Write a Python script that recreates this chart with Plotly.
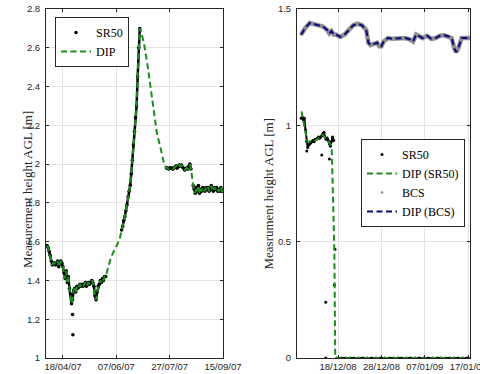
import pandas as pd
import plotly.graph_objects as go

# ---------------- Left panel data (2007) ----------------
sr50_a_start = "2007-04-03"
sr50_a = [1.58, 1.57, 1.55, 1.53, 1.50, 1.48, 1.49, 1.49, 1.48, 1.49,
          1.50, 1.47, 1.49, 1.50, 1.49, 1.47, 1.44, 1.41, 1.45, 1.39,
          1.42, 1.36, 1.33, 1.28, 1.30, 1.35, 1.36, 1.34, 1.37, 1.36,
          1.37, 1.38, 1.37, 1.38, 1.37, 1.38, 1.39, 1.37, 1.38, 1.39,
          1.38, 1.39, 1.40, 1.39, 1.37, 1.32, 1.30, 1.34, 1.37, 1.38,
          1.40, 1.39, 1.41, 1.40, 1.42, 1.42]
sr50_b_start = "2007-06-12"
sr50_b = [1.66, 1.68, 1.71, 1.73, 1.76, 1.79, 1.83, 1.86, 1.89, 1.95,
          2.02, 2.10, 2.17, 2.24, 2.30, 2.45, 2.60, 2.70]
sr50_c_start = "2007-07-24"
sr50_c = [1.98, 1.98, 1.975, 1.98, 1.98, 1.98, 1.975, 1.98, 1.985, 1.99,
          1.98, 1.985, 1.995, 1.99, 1.995, 1.985, 1.98, 1.97, 1.975, 1.98,
          1.975, 1.99, 2.00, 1.975]
sr50_d_start = "2007-08-18"
sr50_d = [1.89, 1.87, 1.85, 1.88, 1.86, 1.89, 1.85, 1.87, 1.86, 1.88,
          1.87, 1.86, 1.88, 1.87, 1.88, 1.86, 1.87, 1.89, 1.87, 1.86,
          1.88, 1.87, 1.88, 1.86, 1.87, 1.86, 1.88, 1.86, 1.865]
sr50_out_dates = ["2007-04-27", "2007-04-27 06:00"]
sr50_out_vals = [1.225, 1.12]

dip_gap1_dates = ["2007-05-30", "2007-06-02", "2007-06-06", "2007-06-10"]
dip_gap1_vals = [1.46, 1.52, 1.565, 1.61]
dip_gap2_dates = ["2007-06-30", "2007-07-03", "2007-07-06", "2007-07-09",
                  "2007-07-12", "2007-07-15", "2007-07-19", "2007-07-22"]
dip_gap2_vals = [2.69, 2.62, 2.52, 2.40, 2.28, 2.16, 2.07, 1.995]
dip_gap3_dates = ["2007-08-17"]
dip_gap3_vals = [1.92]

left_ticks = ["2007-04-18", "2007-06-07", "2007-07-27", "2007-09-15"]
left_ticktext = ["18/04/07", "07/06/07", "27/07/07", "15/09/07"]
left_yticks = [1, 1.2, 1.4, 1.6, 1.8, 2, 2.2, 2.4, 2.6, 2.8]

# ---------------- Right panel data (2008/09) ----------------
r_sr50_start = "2008-12-09 12:00"
r_sr50 = [1.03, 1.035, 1.025, 1.03, 0.98, 0.93, 0.905, 0.915, 0.92, 0.925,
          0.93, 0.935, 0.93, 0.94, 0.94, 0.945, 0.95, 0.945, 0.95, 0.955,
          0.965, 0.97, 0.95, 0.94, 0.945, 0.935, 0.92, 0.91, 0.93, 0.95,
          0.935]
r_zero_start = "2008-12-17 18:00"
r_zero = [0.0, 0.0, 0.0, 0.0, 0.0, 0.0, 0.0, 0.0, 0.0, 0.0,
          0.0, 0.0, 0.0, 0.0, 0.0, 0.0, 0.0, 0.0, 0.0, 0.0,
          0.0, 0.0, 0.0, 0.0, 0.0, 0.0, 0.0, 0.0, 0.0, 0.0, 0.0]
r_out_dates = ["2008-12-10 19:00", "2008-12-14 06:00", "2008-12-16 00:00",
               "2008-12-15 04:00", "2008-12-15 04:00", "2008-12-17 03:30",
               "2008-12-17 07:00"]
r_out_vals = [0.89, 0.873, 0.855, 0.24, 0.0, 0.314, 0.4675]

r_dip_dates = ["2008-12-09 14:00", "2008-12-10 22:00", "2008-12-12 12:00",
               "2008-12-14 12:00", "2008-12-16 13:00", "2008-12-17 03:36",
               "2008-12-17 08:30", "2009-01-17 12:00"]
r_dip_vals = [1.06, 0.93, 0.93, 0.96, 0.91, 0.46, 0.0, 0.0]

bcs_dates = ["2008-12-09 12:00", "2008-12-10 12:00", "2008-12-11 12:00",
             "2008-12-12 12:00", "2008-12-13 12:00", "2008-12-14 12:00",
             "2008-12-15 12:00", "2008-12-16 00:00", "2008-12-16 12:00",
             "2008-12-17 00:00", "2008-12-17 12:00", "2008-12-18 12:00",
             "2008-12-19 12:00", "2008-12-20 12:00", "2008-12-21 12:00",
             "2008-12-22 12:00", "2008-12-23 12:00", "2008-12-24 12:00",
             "2008-12-25 00:00", "2008-12-25 12:00", "2008-12-26 12:00",
             "2008-12-27 00:00", "2008-12-27 12:00", "2008-12-28 00:00",
             "2008-12-28 12:00", "2008-12-29 12:00", "2008-12-30 12:00",
             "2008-12-31 12:00", "2009-01-01 12:00", "2009-01-02 12:00",
             "2009-01-03 12:00", "2009-01-04 07:00", "2009-01-05 00:00",
             "2009-01-05 12:00", "2009-01-06 12:00", "2009-01-07 12:00",
             "2009-01-08 12:00", "2009-01-09 12:00", "2009-01-10 12:00",
             "2009-01-11 12:00", "2009-01-12 12:00", "2009-01-13 05:00",
             "2009-01-13 19:00", "2009-01-14 05:00", "2009-01-14 17:00",
             "2009-01-15 12:00", "2009-01-16 12:00", "2009-01-17 10:00"]
bcs_vals = [1.39, 1.42, 1.44, 1.435, 1.43, 1.425, 1.41, 1.395, 1.405,
            1.39, 1.39, 1.38, 1.39, 1.41, 1.43, 1.437, 1.43, 1.41,
            1.355, 1.345, 1.35, 1.355, 1.34, 1.34, 1.36, 1.375, 1.372,
            1.372, 1.372, 1.375, 1.37, 1.36, 1.39, 1.385, 1.375, 1.385,
            1.372, 1.375, 1.385, 1.387, 1.382, 1.375, 1.33, 1.315, 1.33,
            1.375, 1.375, 1.375]
# DIP (BCS) follows the BCS record closely
dip_bcs_dates = list(bcs_dates)
dip_bcs_vals = list(bcs_vals)

right_ticks = ["2008-12-18", "2008-12-28", "2009-01-07", "2009-01-17"]
right_ticktext = ["18/12/08", "28/12/08", "07/01/09", "17/01/09"]
right_yticks = [0, 0.5, 1, 1.5]


def seg_dates(start, vals, freq="D"):
    return list(pd.date_range(start, periods=len(vals), freq=freq))


a_d = seg_dates(sr50_a_start, sr50_a)
b_d = seg_dates(sr50_b_start, sr50_b)
c_d = seg_dates(sr50_c_start, sr50_c)
d_d = seg_dates(sr50_d_start, sr50_d)

sr50_x = a_d + b_d + c_d + d_d + [pd.Timestamp(t) for t in sr50_out_dates]
sr50_y = sr50_a + sr50_b + sr50_c + sr50_d + sr50_out_vals

line_x, line_y = [], []
for dd, vv in [(a_d, sr50_a), (b_d, sr50_b), (c_d, sr50_c), (d_d, sr50_d)]:
    line_x += dd + [None]
    line_y += vv + [None]

dip_x = (a_d + [pd.Timestamp(t) for t in dip_gap1_dates] + b_d
         + [pd.Timestamp(t) for t in dip_gap2_dates] + c_d
         + [pd.Timestamp(t) for t in dip_gap3_dates] + d_d)
dip_y = sr50_a + dip_gap1_vals + sr50_b + dip_gap2_vals + sr50_c + dip_gap3_vals + sr50_d

rs_d = seg_dates(r_sr50_start, r_sr50, "6h")
rz_d = seg_dates(r_zero_start, r_zero)

GREEN = "#1a8f1a"
NAVY = "#0a0a80"
GRAY = "#8e8e8e"
AX = "#262626"
SERIF = "Liberation Serif, Times New Roman, DejaVu Serif, serif"
SANS = "Liberation Sans, Arial, sans-serif"
DASH = "6px,3.5px"

fig = go.Figure()

# Left panel
fig.add_trace(go.Scatter(x=line_x, y=line_y, mode="lines", line=dict(color="black", width=2.5),
                         showlegend=False, hoverinfo="skip", xaxis="x", yaxis="y"))
fig.add_trace(go.Scatter(x=sr50_x, y=sr50_y, mode="markers", name="SR50",
                         marker=dict(color="black", size=3.5), xaxis="x", yaxis="y", legend="legend"))
fig.add_trace(go.Scatter(x=dip_x, y=dip_y, mode="lines", name="DIP",
                         line=dict(color=GREEN, width=2, dash=DASH), xaxis="x", yaxis="y", legend="legend"))

# Right panel
fig.add_trace(go.Scatter(x=rs_d + [None] + rz_d, y=r_sr50 + [None] + r_zero, mode="lines",
                         line=dict(color="black", width=2), showlegend=False, hoverinfo="skip",
                         xaxis="x2", yaxis="y2"))
fig.add_trace(go.Scatter(x=rs_d + rz_d + [pd.Timestamp(t) for t in r_out_dates],
                         y=r_sr50 + r_zero + r_out_vals, mode="markers", name="SR50",
                         marker=dict(color="black", size=3), xaxis="x2", yaxis="y2", legend="legend2"))
fig.add_trace(go.Scatter(x=r_dip_dates, y=r_dip_vals, mode="lines", name="DIP (SR50)",
                         line=dict(color=GREEN, width=2, dash=DASH), xaxis="x2", yaxis="y2",
                         legend="legend2"))
fig.add_trace(go.Scatter(x=bcs_dates, y=bcs_vals, mode="lines", line=dict(color=GRAY, width=4.5),
                         showlegend=False, hoverinfo="skip", xaxis="x2", yaxis="y2"))
fig.add_trace(go.Scatter(x=bcs_dates, y=bcs_vals, mode="markers", name="BCS",
                         marker=dict(color=GRAY, size=2.5), xaxis="x2", yaxis="y2", legend="legend2"))
fig.add_trace(go.Scatter(x=dip_bcs_dates, y=dip_bcs_vals, mode="lines", name="DIP (BCS)",
                         line=dict(color=NAVY, width=2, dash=DASH), xaxis="x2", yaxis="y2",
                         legend="legend2"))

W, H = 480, 374


def px_x(p):
    return p / W


def px_y(p):
    return 1 - p / H


axis_common = dict(showline=True, mirror="ticks", linecolor=AX, linewidth=1,
                   ticks="inside", ticklen=3, tickcolor=AX, showgrid=True,
                   gridcolor="#e3e3e3", gridwidth=1, zeroline=False,
                   tickfont=dict(family=SANS, size=9.5, color=AX), automargin=False,
                   ticklabeloverflow="allow")

fig.update_layout(
    width=W, height=H, margin=dict(l=0, r=0, t=0, b=0),
    paper_bgcolor="white", plot_bgcolor="white",
    xaxis=dict(domain=[px_x(46), px_x(223)], anchor="y", type="date",
               range=["2007-04-02 02:00", "2007-09-15"], tickvals=left_ticks,
               ticktext=left_ticktext, **axis_common),
    yaxis=dict(domain=[px_y(358), px_y(9)], anchor="x", range=[1, 2.8],
               tickvals=left_yticks, ticklabelstandoff=3, **axis_common),
    xaxis2=dict(domain=[px_x(297), px_x(470)], anchor="y2", type="date",
                range=["2008-12-08 13:00", "2009-01-17 10:00"], tickvals=right_ticks,
                ticktext=right_ticktext, **axis_common),
    yaxis2=dict(domain=[px_y(358), px_y(9)], anchor="x2", range=[0, 1.5],
                tickvals=right_yticks, ticklabelstandoff=3, **axis_common),
    legend=dict(x=px_x(55), y=px_y(17), xanchor="left", yanchor="top",
                bgcolor="white", bordercolor=AX, borderwidth=1,
                font=dict(family=SERIF, size=12, color="black"), tracegroupgap=0),
    legend2=dict(x=px_x(361), y=px_y(183), xanchor="left", yanchor="middle",
                 bgcolor="white", bordercolor=AX, borderwidth=1,
                 font=dict(family=SERIF, size=12, color="black"), tracegroupgap=0),
    annotations=[
        dict(text="Measurement height AGL [m]", x=px_x(17.5), y=px_y(190),
             xref="paper", yref="paper", showarrow=False, textangle=-90,
             font=dict(family=SERIF, size=13, color=AX)),
        dict(text="Measrument height AGL [m]", x=px_x(267.5), y=px_y(194),
             xref="paper", yref="paper", showarrow=False, textangle=-90,
             font=dict(family=SERIF, size=13, color=AX)),
    ],
)

fig.write_html("out.html")
